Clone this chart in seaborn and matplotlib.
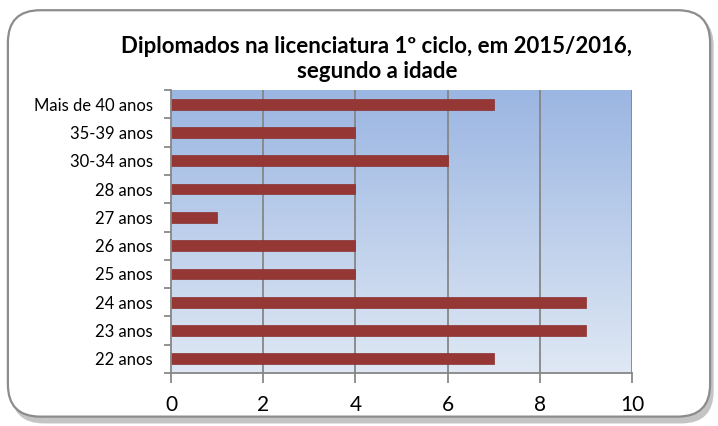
import numpy as np
import pandas as pd
import matplotlib
matplotlib.use("Agg")
import matplotlib.pyplot as plt
from matplotlib.patches import FancyBboxPatch
from matplotlib.ticker import FixedLocator
import seaborn as sns

# Age groups (top to bottom) and number of graduates
idades = ["Mais de 40 anos", "35-39 anos", "30-34 anos", "28 anos", "27 anos",
          "26 anos", "25 anos", "24 anos", "23 anos", "22 anos"]
diplomados = [7, 4, 6, 4, 1, 4, 4, 9, 9, 7]
x_ticks = [0, 2, 4, 6, 8, 10]

df = pd.DataFrame({"idade": idades, "n": diplomados})

sns.set_theme(style="white")
plt.rcParams["font.family"] = ["Lato", "DejaVu Sans"]

fig = plt.figure(figsize=(7.18, 4.26), dpi=100)
fig.patch.set_facecolor("white")

# Rounded chart frame with a soft shadow
asp = 718 / 426
shadow = FancyBboxPatch((0.016, 0.006), 0.978, 0.962,
                        boxstyle="round,pad=0,rounding_size=0.045",
                        transform=fig.transFigure, facecolor="#c4c4c4",
                        edgecolor="none", zorder=0, mutation_aspect=asp)
frame = FancyBboxPatch((0.011, 0.022), 0.978, 0.954,
                       boxstyle="round,pad=0,rounding_size=0.045",
                       transform=fig.transFigure, facecolor="white",
                       edgecolor="#8c8c8c", linewidth=1.6, zorder=1,
                       mutation_aspect=asp)
fig.patches.extend([shadow, frame])

ax = fig.add_axes([171/718, 1 - 373/426, (632 - 171)/718, (373 - 90)/426])
ax.set_zorder(2)

# Vertical blue gradient in the plot area
top = np.array([0x9b, 0xb6, 0xe2]) / 255
bot = np.array([0xdf, 0xe8, 0xf4]) / 255
t = np.linspace(0, 1, 256)[:, None]
grad = (top * (1 - t) + bot * t)[:, None, :]
ax.imshow(grad, extent=[0, 10, 9.5, -0.5], aspect="auto", zorder=0,
          interpolation="bilinear")

sns.barplot(data=df, y="idade", x="n", order=idades, orient="h",
            color="#953735", saturation=1, width=0.38, ax=ax, zorder=3,
            edgecolor="#8a3030", linewidth=0.5)

ax.set_xlim(0, 10)
ax.set_ylim(9.5, -0.5)
ax.set_xticks(x_ticks)
ax.set_xticklabels([str(v) for v in x_ticks], fontsize=15, color="black")
ax.tick_params(axis="x", length=7, width=1.2, color="#7f7f7f", pad=9,
               direction="out", bottom=True)
for xv in x_ticks[1:]:
    ax.axvline(xv, color="#868686", linewidth=1.3, zorder=1)

ax.set_yticks(range(len(idades)))
ax.set_yticklabels(idades, fontsize=12, color="black")
ax.tick_params(axis="y", which="major", length=0, pad=13)
ax.yaxis.set_minor_locator(FixedLocator(np.arange(-0.5, 10, 1)))
ax.tick_params(axis="y", which="minor", length=5, width=1.2,
               color="#7f7f7f", direction="out", left=True)

ax.set_xlabel("")
ax.set_ylabel("")
for side in ["top", "right"]:
    ax.spines[side].set_visible(False)
for side in ["left", "bottom"]:
    ax.spines[side].set_color("#868686")
    ax.spines[side].set_linewidth(1.3)
    ax.spines[side].set_zorder(4)

fig.text(377/718, 1 - 59/426,
         "Diplomados na licenciatura 1º ciclo, em 2015/2016,\nsegundo a idade",
         ha="center", va="center", fontsize=16, fontweight="bold",
         linespacing=1.25, color="black")

fig.savefig("out.png", dpi=100, facecolor="white")
